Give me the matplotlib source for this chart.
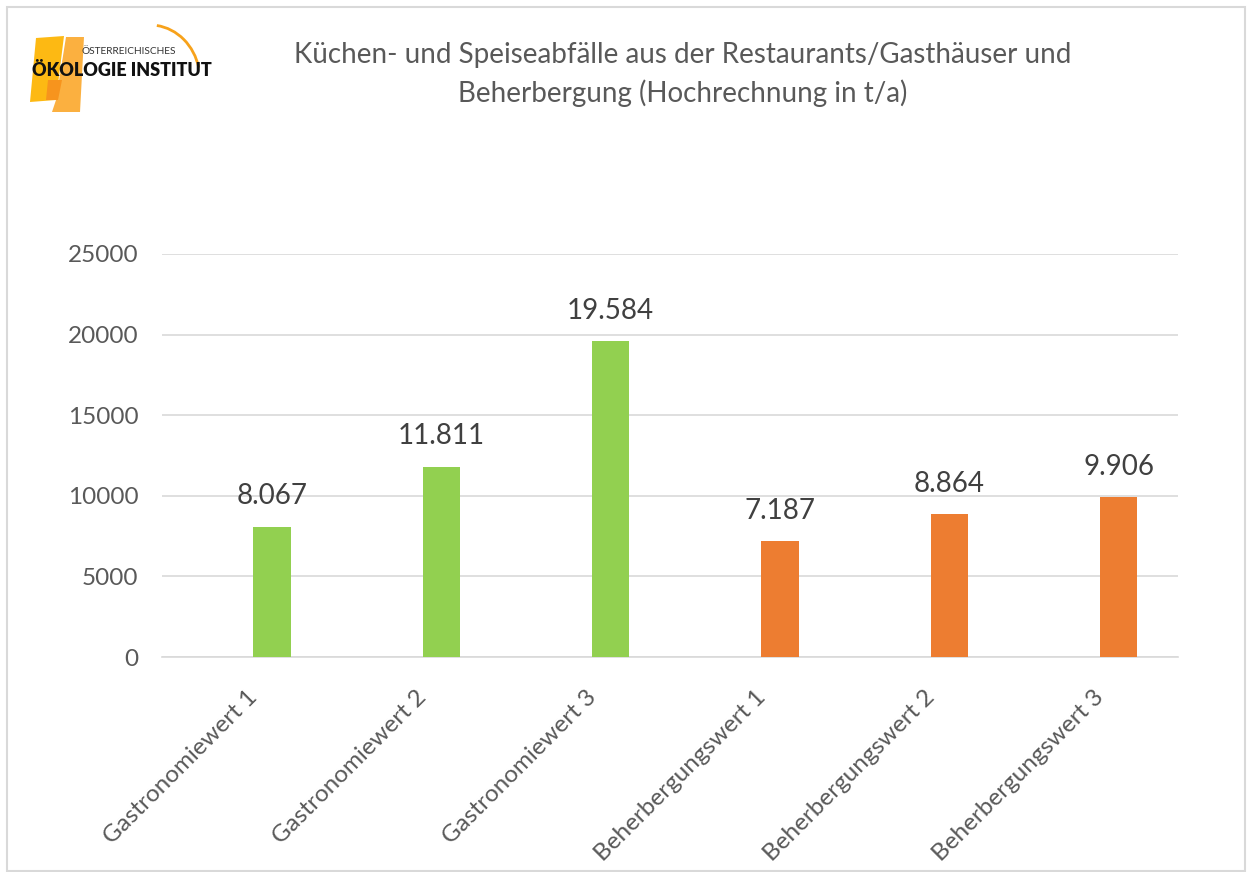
import matplotlib
matplotlib.use("Agg")
import matplotlib.pyplot as plt
import matplotlib.transforms as mtransforms
from matplotlib.patches import Polygon, Rectangle, Arc

categories = ["Gastronomiewert 1", "Gastronomiewert 2", "Gastronomiewert 3",
              "Beherbergungswert 1", "Beherbergungswert 2", "Beherbergungswert 3"]
values = [8067, 11811, 19584, 7187, 8864, 9906]
value_labels = ["8.067", "11.811", "19.584", "7.187", "8.864", "9.906"]
bar_colors = ["#92D050", "#92D050", "#92D050", "#ED7D31", "#ED7D31", "#ED7D31"]
yticks = [0, 5000, 10000, 15000, 20000, 25000]
title = "Küchen- und Speiseabfälle aus der Restaurants/Gasthäuser und\nBeherbergung (Hochrechnung in t/a)"

plt.rcParams['font.family'] = ['Lato', 'DejaVu Sans']

W, H = 1251, 872
fig = plt.figure(figsize=(W / 100, H / 100), dpi=100)

# outer frame
fig.add_artist(Rectangle((7 / W, 1 - 871 / H), (1245 - 7) / W, (871 - 7) / H,
                         transform=fig.transFigure, fill=False,
                         edgecolor="#d9d9d9", linewidth=1.5))

ax = fig.add_axes([162 / W, 1 - 657 / H, (1178 - 162) / W, (657 - 254) / H])
x = list(range(len(categories)))
bar_offset = 0.15
bars = ax.bar([i + bar_offset for i in x], values, width=0.22,
              color=bar_colors, zorder=3)
ax.set_xlim(-0.5, len(categories) - 0.5)
ax.set_ylim(0, 25000)
ax.set_yticks(yticks)
ax.set_yticklabels([str(v) for v in yticks], fontsize=17.5, color="#595959")
ax.set_xticks(x)
ax.set_xticklabels(categories, rotation=45, ha="right", va="top",
                   rotation_mode="anchor", fontsize=17.5, color="#595959")
shift = mtransforms.ScaledTranslation(-6 / 100, 0, fig.dpi_scale_trans)
for lbl in ax.get_xticklabels():
    lbl.set_transform(lbl.get_transform() + shift)
ax.tick_params(axis="both", length=0)
ax.tick_params(axis="y", pad=17)
ax.tick_params(axis="x", pad=21)
ax.grid(axis="y", color="#d9d9d9", linewidth=1.2, zorder=0)
for s in ["top", "right", "left"]:
    ax.spines[s].set_visible(False)
ax.spines["bottom"].set_color("#d9d9d9")
ax.spines["bottom"].set_linewidth(1.2)

for b, lab in zip(bars, value_labels):
    ax.annotate(lab, (b.get_x() + b.get_width() / 2, b.get_height()),
                xytext=(0, 22), textcoords="offset points", ha="center",
                va="center", fontsize=20, color="#404040")

fig.text(683 / W, 1 - 55 / H, title.split("\n")[0], ha="center", va="center",
         fontsize=20, color="#595959")
fig.text(683 / W, 1 - 93 / H, title.split("\n")[1], ha="center", va="center",
         fontsize=20, color="#595959")

# logo
def fp(pts):
    return [(px / W, 1 - py / H) for px, py in pts]

fig.add_artist(Polygon(fp([(36, 38), (64, 36), (56, 100), (30, 102)]),
                       closed=True, transform=fig.transFigure,
                       facecolor="#FDB913", edgecolor="none"))
fig.add_artist(Polygon(fp([(66, 37), (84, 37), (80, 112), (52, 112), (56, 100)]),
                       closed=True, transform=fig.transFigure,
                       facecolor="#FBB040", edgecolor="none"))
fig.add_artist(Polygon(fp([(48, 80), (62, 80), (58, 100), (46, 100)]),
                       closed=True, transform=fig.transFigure,
                       facecolor="#F7941D", edgecolor="none"))
fig.add_artist(Arc((150 / W, 1 - 80 / H), 100 / W, 110 / H, theta1=20, theta2=85,
                   transform=fig.transFigure, color="#F7A21B", linewidth=2))
fig.text(82 / W, 1 - 52 / H, "ÖSTERREICHISCHES", fontsize=7.3, color="#333333",
         ha="left", va="center")
fig.text(32 / W, 1 - 70 / H, "ÖKOLOGIE INSTITUT", fontsize=13, color="#111111",
         ha="left", va="center", fontweight="heavy")

fig.savefig("out.png", dpi=100, facecolor="white")
